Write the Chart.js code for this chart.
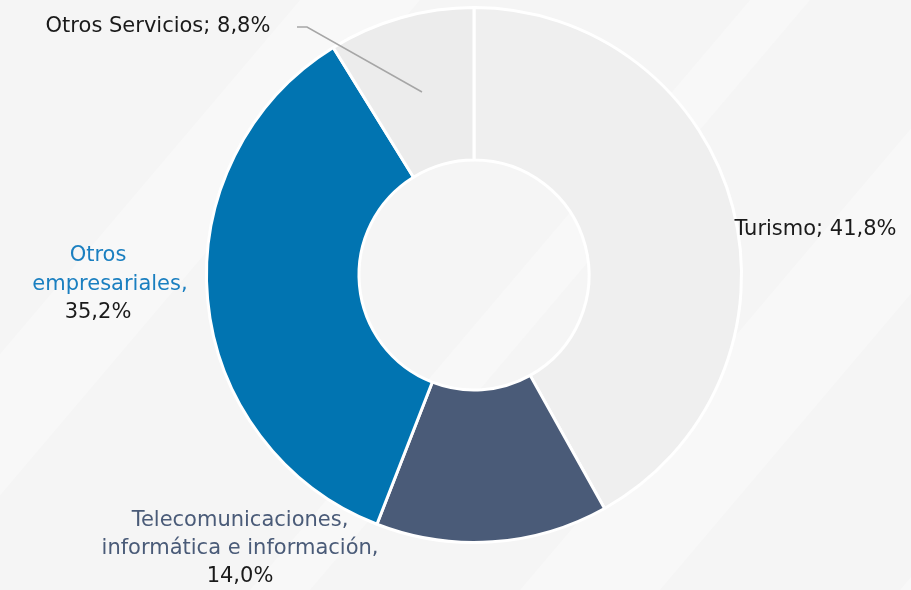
<!DOCTYPE html>
<html>
<head>
<meta charset="utf-8">
<script src="https://cdn.jsdelivr.net/npm/chart.js@4"></script>
<style>
  html, body { margin: 0; padding: 0; background: #f6f6f6; }
  #wrap { width: 911px; height: 590px; }
</style>
</head>
<body>
<div id="wrap"><canvas id="pieChart" width="911" height="590"></canvas></div>
<script>
// Data
const categories = ['Turismo', 'Telecomunicaciones, informática e información', 'Otros empresariales', 'Otros Servicios'];
const shares = [41.8, 14.0, 35.2, 8.8];
const sliceColors = ['#efefef', '#4a5b78', '#0174b1', '#ececec'];

const fontFamily = '"DejaVu Sans", "Open Sans", sans-serif';

// faint diagonal stripes behind everything
const backdrop = {
    id: 'backdrop',
    beforeDraw(chart) {
        const ctx = chart.ctx;
        const w = chart.width, h = chart.height;
        ctx.save();
        ctx.fillStyle = '#f5f5f5';
        ctx.fillRect(0, 0, w, h);
        ctx.fillStyle = 'rgba(255,255,255,0.3)';
        const bands = [[-200, 120], [250, 60], [520, 140], [900, 80]];
        bands.forEach(([x0, bw]) => {
            ctx.beginPath();
            ctx.moveTo(x0, h);
            ctx.lineTo(x0 + bw, h);
            ctx.lineTo(x0 + bw + 500, 0);
            ctx.lineTo(x0 + 500, 0);
            ctx.closePath();
            ctx.fill();
        });
        ctx.restore();
    }
};

// category labels, placed around the ring
const sliceLabels = {
    id: 'sliceLabels',
    afterDraw(chart) {
        const ctx = chart.ctx;
        const arc = chart.getDatasetMeta(0).data[0];
        const cx = arc.x, cy = arc.y, r = arc.outerRadius;
        const fmt = v => v.toFixed(1).replace('.', ',') + '%';
        ctx.save();
        ctx.font = '21px ' + fontFamily;
        ctx.textAlign = 'center';
        ctx.textBaseline = 'middle';

        // Turismo
        ctx.fillStyle = '#1a1a1a';
        ctx.fillText(categories[0] + '; ' + fmt(shares[0]), cx + r + 74, cy - 45);

        // Telecomunicaciones
        const tx = cx - 234, ty = cy + 246;
        ctx.fillStyle = '#4a5b78';
        ctx.fillText('Telecomunicaciones,', tx, ty);
        ctx.fillText('informática e información,', tx, ty + 28);
        ctx.fillStyle = '#1a1a1a';
        ctx.fillText(fmt(shares[1]), tx, ty + 56);

        // Otros empresariales
        const ex = cx - 372, ey = cy - 19;
        ctx.fillStyle = '#1a7fc0';
        ctx.fillText('Otros', ex - 4, ey);
        ctx.fillText('empresariales,', ex + 8, ey + 29);
        ctx.fillStyle = '#1a1a1a';
        ctx.fillText(fmt(shares[2]), ex - 4, ey + 57);

        // Otros Servicios with leader line
        ctx.fillStyle = '#1a1a1a';
        ctx.fillText(categories[3] + '; ' + fmt(shares[3]), cx - 316, cy - 248);
        ctx.strokeStyle = '#a6a6a6';
        ctx.lineWidth = 1.5;
        ctx.beginPath();
        ctx.moveTo(cx - 177, cy - 248);
        ctx.lineTo(cx - 167, cy - 248);
        ctx.lineTo(cx - 52, cy - 183);
        ctx.stroke();
        ctx.restore();
    }
};

new Chart(document.getElementById('pieChart'), {
    type: 'doughnut',
    data: {
        labels: categories,
        datasets: [{
            data: shares,
            backgroundColor: sliceColors,
            borderColor: '#ffffff',
            borderWidth: 3,
            hoverOffset: 0
        }]
    },
    options: {
        responsive: false,
        animation: false,
        cutout: '43%',
        rotation: 0,
        layout: {
            padding: { top: 6, bottom: 46, left: 205, right: 168 }
        },
        plugins: {
            legend: { display: false },
            tooltip: { enabled: false }
        }
    },
    plugins: [backdrop, sliceLabels]
});
</script>
</body>
</html>
